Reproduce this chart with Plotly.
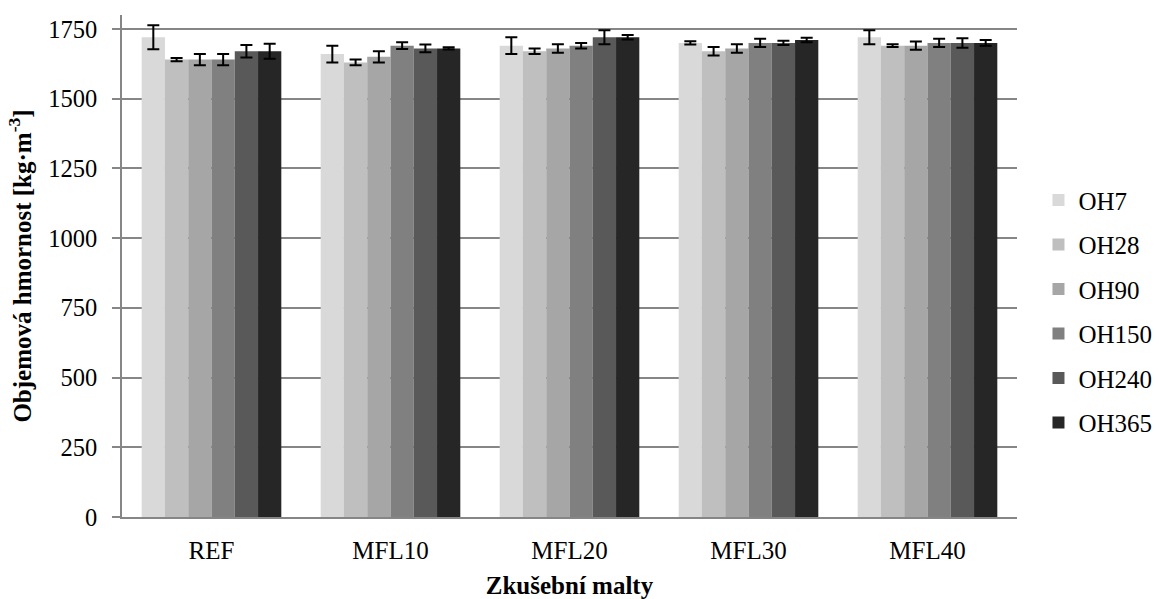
import plotly.graph_objects as go

categories = ["REF", "MFL10", "MFL20", "MFL30", "MFL40"]
series_names = ["OH7", "OH28", "OH90", "OH150", "OH240", "OH365"]
values = {
    "OH7":   [1720, 1660, 1690, 1700, 1720],
    "OH28":  [1640, 1630, 1670, 1670, 1690],
    "OH90":  [1640, 1650, 1680, 1680, 1690],
    "OH150": [1640, 1690, 1690, 1700, 1700],
    "OH240": [1670, 1680, 1720, 1700, 1700],
    "OH365": [1670, 1680, 1720, 1710, 1700],
}
errors = {
    "OH7":   [43, 30, 30, 6, 25],
    "OH28":  [6, 10, 10, 15, 5],
    "OH90":  [20, 20, 15, 15, 15],
    "OH150": [20, 12, 10, 15, 15],
    "OH240": [22, 14, 25, 8, 17],
    "OH365": [27, 4, 8, 8, 10],
}
colors = ["#d9d9d9", "#bfbfbf", "#a6a6a6", "#808080", "#595959", "#262626"]
y_ticks = [0, 250, 500, 750, 1000, 1250, 1500, 1750]

font_family = '"Liberation Serif", "Times New Roman", Times, serif'

fig = go.Figure()
for name, color in zip(series_names, colors):
    fig.add_trace(go.Bar(
        name=name,
        x=categories,
        y=values[name],
        marker=dict(color=color, line=dict(width=0)),
        error_y=dict(type="data", array=errors[name], visible=True,
                     color="black", thickness=2, width=6),
        legendgroup=name,
    ))

fig.update_layout(
    barmode="group",
    bargap=0.22,
    bargroupgap=0,
    width=1159,
    height=599,
    margin=dict(l=122, r=142, t=15, b=82, autoexpand=False),
    plot_bgcolor="white",
    paper_bgcolor="white",
    font=dict(family=font_family, size=25, color="black"),
    legend=dict(
        x=1.024, y=0.41, xanchor="left", yanchor="middle",
        font=dict(size=25, family=font_family),
        tracegroupgap=9,
        itemwidth=30,
    ),
    xaxis=dict(
        showline=True, linecolor="#868686", linewidth=1.5,
        ticks="", tickfont=dict(size=25, family=font_family),
        ticklabelstandoff=10,
        automargin=False,
        title=dict(text="<b>Zkušební malty</b>", font=dict(size=25, family=font_family), standoff=14),
    ),
    yaxis=dict(
        range=[0, 1800],
        tickvals=y_ticks,
        showgrid=True, gridcolor="#868686", gridwidth=1.5,
        showline=True, linecolor="#868686", linewidth=1.5,
        ticks="outside", ticklen=8, tickcolor="#868686", tickwidth=1.5,
        tickfont=dict(size=24.5, family=font_family),
        ticklabelstandoff=10,
        zeroline=False,
        automargin=False,
        title=dict(text="<b>Objemová hmornost [kg·m<sup>-3</sup>]</b>",
                   font=dict(size=25, family=font_family), standoff=10),
    ),
)

fig.write_html("out.html",
               config={"displayModeBar": False},
               post_script="document.body.style.margin='0';document.body.style.overflow='hidden';")
